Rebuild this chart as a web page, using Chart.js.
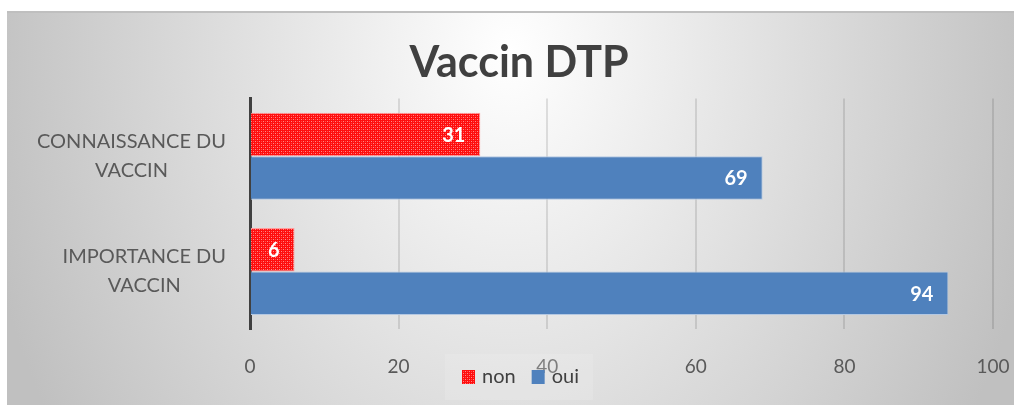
<!DOCTYPE html>
<html>
<head>
<meta charset="utf-8">
<script src="https://cdn.jsdelivr.net/npm/chart.js@4"></script>
<style>
  html, body { margin: 0; padding: 0; background: #fff; }
  #frame {
    position: absolute; left: 7px; top: 11px; width: 1007px; height: 394px;
    box-sizing: border-box; border-top: 2px solid #bfbfbf;
    background: radial-gradient(540px 700px at 503px 40px, #ffffff 0%, #c0c0c0 100%);
  }
  canvas { display: block; }
</style>
</head>
<body>
<div id="frame"><canvas id="chart" width="1007" height="392"></canvas></div>
<script>
const categories = [["CONNAISSANCE DU", "VACCIN"], ["IMPORTANCE DU", "VACCIN"]];
const seriesNames = ["non", "oui"];
const nonValues = [31, 6];
const ouiValues = [69, 94];
const xTicks = [0, 20, 40, 60, 80, 100];

const FONT = "Lato, 'Open Sans', sans-serif";

// red fill with the small light dot pattern
function redPattern() {
  const c = document.createElement("canvas");
  c.width = 4; c.height = 4;
  const g = c.getContext("2d");
  g.fillStyle = "#ff0d0d";
  g.fillRect(0, 0, 4, 4);
  g.fillStyle = "#ff8a8a";
  g.fillRect(0, 0, 1, 1);
  g.fillRect(2, 2, 1, 1);
  g.fillStyle = "#ff4a4a";
  g.fillRect(2, 0, 1, 1);
  g.fillRect(0, 2, 1, 1);
  return c.getContext("2d").createPattern(c, "repeat");
}
const red = redPattern();
const blue = "#4f81bd";

// category labels, each block centred on itself and right aligned to the axis
const yLabelsPlugin = {
  id: "yLabels",
  afterDraw(chart) {
    const ctx = chart.ctx;
    const y = chart.scales.y;
    ctx.save();
    ctx.font = "20px " + FONT;
    ctx.fillStyle = "#595959";
    ctx.textAlign = "center";
    ctx.textBaseline = "middle";
    categories.forEach((lines, i) => {
      const w = Math.max(...lines.map(l => ctx.measureText(l).width));
      const cx = chart.chartArea.left - 24 - w / 2;
      const cy = y.getPixelForTick(i);
      lines.forEach((l, j) => {
        ctx.fillText(l, cx, cy + (j - (lines.length - 1) / 2) * 29);
      });
    });
    ctx.restore();
  }
};

// white values at the inner end of each bar
const valueLabelsPlugin = {
  id: "valueLabels",
  afterDatasetsDraw(chart) {
    const ctx = chart.ctx;
    ctx.save();
    ctx.font = "bold 20px " + FONT;
    ctx.fillStyle = "#ffffff";
    ctx.textAlign = "right";
    ctx.textBaseline = "middle";
    chart.data.datasets.forEach((ds, i) => {
      chart.getDatasetMeta(i).data.forEach((bar, j) => {
        ctx.fillText(String(ds.data[j]), bar.x - 15, bar.y + 1);
      });
    });
    ctx.restore();
  }
};

// legend box under the axis, overlapping the tick labels like the original
const legendPlugin = {
  id: "bottomLegend",
  afterDraw(chart) {
    const ctx = chart.ctx;
    ctx.save();
    ctx.fillStyle = "rgba(240,240,240,0.25)";
    ctx.fillRect(438, 341, 148, 46);
    ctx.font = "20px " + FONT;
    ctx.textBaseline = "middle";
    let x = 455;
    chart.data.datasets.forEach(ds => {
      ctx.fillStyle = ds.backgroundColor;
      ctx.fillRect(x, 357, 13, 14);
      ctx.fillStyle = "#404040";
      ctx.fillText(ds.label, x + 20, 364);
      x += 20 + ctx.measureText(ds.label).width + 16;
    });
    ctx.restore();
  }
};

new Chart(document.getElementById("chart"), {
  type: "bar",
  data: {
    labels: categories,
    datasets: [
      { label: seriesNames[0], data: nonValues, backgroundColor: red, borderColor: "#ff9c9c", borderWidth: 1 },
      { label: seriesNames[1], data: ouiValues, backgroundColor: blue, borderColor: "#b4c8e2", borderWidth: 1 }
    ]
  },
  options: {
    indexAxis: "y",
    responsive: false,
    animation: false,
    layout: { padding: { left: 38, right: 21, top: 0, bottom: 0 } },
    datasets: { bar: { categoryPercentage: 0.755, barPercentage: 1 } },
    plugins: {
      legend: { display: false },
      tooltip: { enabled: false },
      title: {
        display: true,
        text: "Vaccin DTP",
        color: "#404040",
        font: { family: FONT, size: 43, weight: "bold" },
        padding: { top: 24, bottom: 10 }
      }
    },
    scales: {
      x: {
        min: 0,
        max: 100,
        afterBuildTicks: scale => { scale.ticks = xTicks.map(v => ({ value: v })); },
        afterFit: scale => { scale.height = 76; scale.paddingLeft = 0; scale.paddingRight = 0; },
        grid: { color: "rgba(0,0,0,0.11)", lineWidth: 2, drawTicks: false },
        border: { display: false },
        ticks: { color: "#595959", padding: 26, font: { family: FONT, size: 19 } }
      },
      y: {
        afterFit: scale => { scale.width = 205; },
        grid: { display: false, drawTicks: false },
        border: { display: true, color: "#404040", width: 3 },
        ticks: { display: false }
      }
    }
  },
  plugins: [yLabelsPlugin, valueLabelsPlugin, legendPlugin]
});
</script>
</body>
</html>
